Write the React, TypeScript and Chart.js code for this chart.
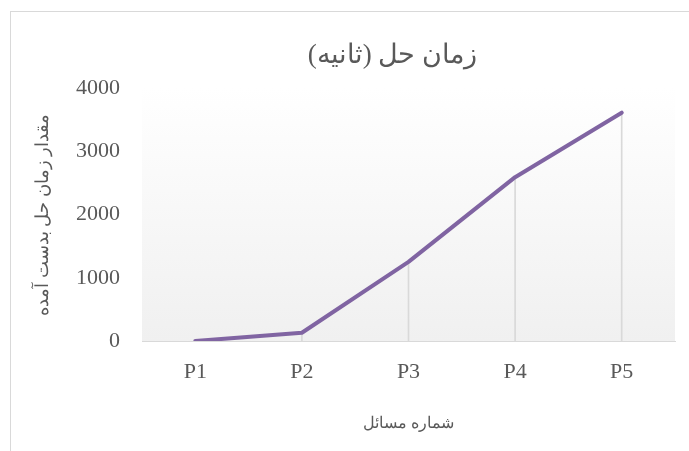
import React, { useEffect, useRef } from "react";
import { Chart, registerables } from "chart.js";

Chart.register(...registerables);

const categories = ["P1", "P2", "P3", "P4", "P5"];
const solveTimes = [0, 130, 1250, 2590, 3610];
const yTickValues = [0, 1000, 2000, 3000, 4000];
const chartTitle = "زمان حل (ثانیه)";
const xTitle = "شماره مسائل";
const yTitle = "مقدار زمان حل بدست آمده";

const TEXT = "#595959";
const FONT = "'Liberation Serif', 'DejaVu Serif', serif";

const bgPlugin = {
  id: "plotBg",
  beforeDraw(chart: any) {
    const { ctx, chartArea } = chart;
    if (!chartArea) return;
    const g = ctx.createLinearGradient(0, chartArea.top, 0, chartArea.bottom);
    g.addColorStop(0, "#ffffff");
    g.addColorStop(1, "#f0f0f0");
    ctx.save();
    ctx.fillStyle = g;
    ctx.fillRect(chartArea.left, chartArea.top, chartArea.right - chartArea.left, chartArea.bottom - chartArea.top);
    ctx.restore();
  },
};

const titlePlugin = {
  id: "rtlTitle",
  afterDraw(chart: any) {
    const { ctx, chartArea } = chart;
    ctx.save();
    ctx.direction = "rtl";
    ctx.textAlign = "center";
    ctx.textBaseline = "middle";
    ctx.fillStyle = TEXT;
    ctx.font = `27px ${FONT}`;
    ctx.fillText(chartTitle, (chartArea.left + chartArea.right) / 2 - 16, 56);
    ctx.restore();
  },
};

export default function App() {
  const ref = useRef<HTMLCanvasElement | null>(null);
  useEffect(() => {
    document.body.style.margin = "0";
    document.body.style.overflow = "hidden";
    const chart = new Chart(ref.current as HTMLCanvasElement, {
      type: "line",
      data: {
        labels: categories,
        datasets: [
          {
            type: "line",
            data: solveTimes,
            borderColor: "#8064a2",
            borderWidth: 4,
            pointRadius: 0,
            tension: 0,
            borderCapStyle: "round",
            borderJoinStyle: "round",
            order: 0,
          } as any,
          {
            type: "bar",
            data: solveTimes,
            backgroundColor: "#d9d9d9",
            barThickness: 1,
            order: 1,
          } as any,
        ],
      },
      options: {
        animation: false,
        responsive: false,
        maintainAspectRatio: false,
        layout: { padding: { left: 20, right: 14, top: 88, bottom: 10 } },
        plugins: { legend: { display: false }, title: { display: false }, tooltip: { enabled: false } },
        scales: {
          x: {
            offset: true,
            grid: { display: false },
            border: { display: true, color: "#d9d9d9", width: 1 },
            ticks: { color: TEXT, font: { family: FONT, size: 22 }, padding: 10 },
            title: { display: true, text: xTitle, color: TEXT, font: { family: FONT, size: 16 }, padding: { top: 4, bottom: 8 } },
            afterFit(scale: any) {
              scale.height = 451 - 341 - 10;
            },
          },
          y: {
            min: 0,
            max: 4000,
            grid: { display: false, drawTicks: false },
            border: { display: false },
            afterBuildTicks(scale: any) {
              scale.ticks = yTickValues.map((v) => ({ value: v }));
            },
            ticks: {
              color: TEXT,
              font: { family: FONT, size: 22 },
              padding: 22,
              callback: (v: any) => String(v),
            },
            title: { display: true, text: yTitle, color: TEXT, font: { family: FONT, size: 18 }, padding: { top: 12, bottom: 0 } },
            afterFit(scale: any) {
              scale.width = 142 - 20;
            },
          },
        },
      },
      plugins: [bgPlugin, titlePlugin],
    });
    return () => chart.destroy();
  }, []);
  return (
    <div style={{ position: "relative", width: 689, height: 451, overflow: "hidden", fontFamily: FONT }}>
      <div
        style={{
          position: "absolute",
          left: 10,
          top: 11,
          width: 700,
          height: 460,
          border: "1px solid #d9d9d9",
          boxSizing: "border-box",
        }}
      />
      <canvas ref={ref} width={689} height={451} style={{ position: "absolute", left: 0, top: 0 }} />
    </div>
  );
}
